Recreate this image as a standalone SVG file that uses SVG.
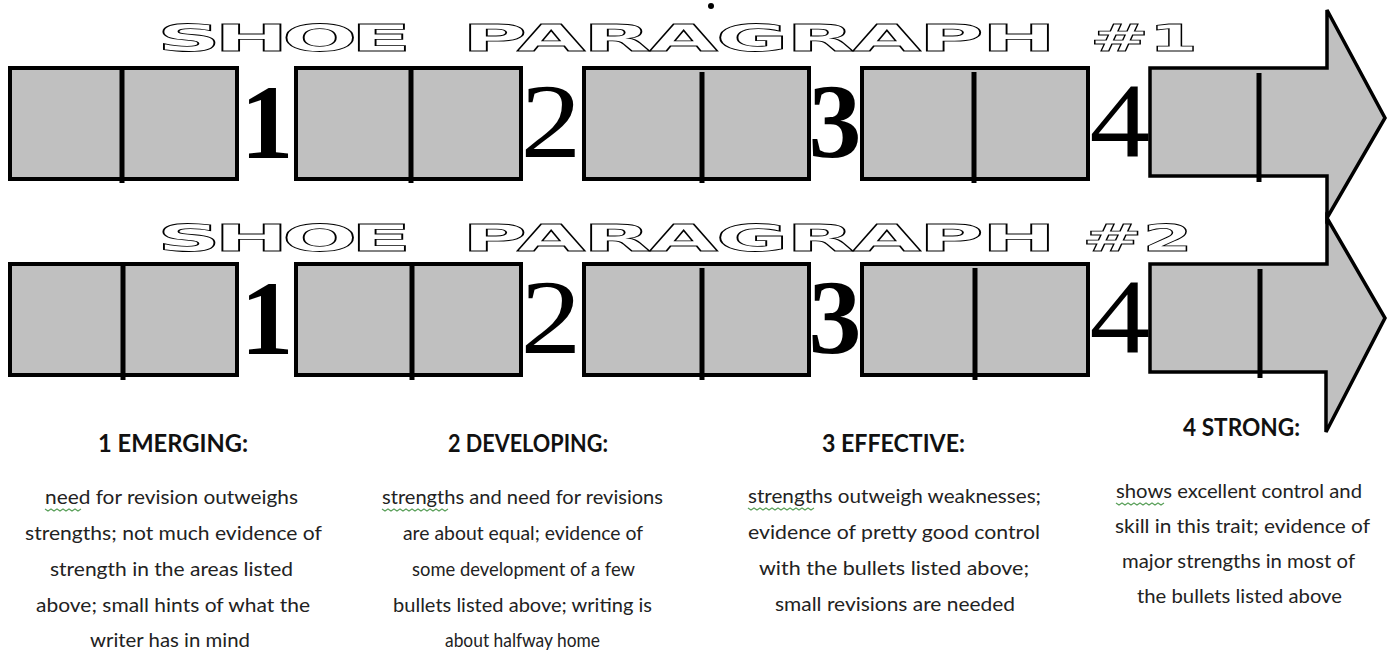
<svg xmlns="http://www.w3.org/2000/svg" width="1389" height="650" viewBox="0 0 1389 650">
<style>
.box{fill:#c0c0c0;stroke:#000;stroke-width:4}
.dv{stroke:#000;stroke-width:5;fill:none}
.arr{fill:#c0c0c0;stroke:#000;stroke-width:3.5;stroke-linejoin:miter}
.num{font-family:"Liberation Serif","Times New Roman",serif;font-size:106px;fill:#000;text-anchor:middle}
.title{font-family:"DejaVu Sans",sans-serif;font-weight:bold;font-size:37px;fill:#fff;stroke:#000;stroke-width:0.8}
.head{font-family:Lato,"Liberation Sans",sans-serif;font-weight:bold;font-size:24px;fill:#111}
.body{font-family:Lato,"Liberation Sans",sans-serif;font-size:19px;fill:#222}
.sq{fill:none;stroke:#5aa05a;stroke-width:1.2}
</style>
<rect width="1389" height="650" fill="#fff"/>
<circle cx="711" cy="6" r="3" fill="#000"/>

<g id="title1">
<text class="title" transform="translate(157,51) scale(2.4,1)" textLength="106" lengthAdjust="spacing">SHOE</text>
<text class="title" transform="translate(462,51) scale(2.4,1)" textLength="247.5" lengthAdjust="spacing">PARAGRAPH</text>
<text class="title" transform="translate(1090,51) scale(1.9,1)">#1</text>
</g>
<g id="title2">
<text class="title" transform="translate(157,251) scale(2.4,1)" textLength="106" lengthAdjust="spacing">SHOE</text>
<text class="title" transform="translate(462,251) scale(2.4,1)" textLength="247.5" lengthAdjust="spacing">PARAGRAPH</text>
<text class="title" transform="translate(1082,251) scale(1.95,1)">#2</text>
</g>

<g id="row1">
<g id="r1-box1"><rect class="box" x="10" y="68" width="227" height="111"/><line class="dv" x1="122" y1="70" x2="122" y2="183"/></g>
<g id="r1-num1"><text class="num" x="267" y="158" font-weight="bold">1</text></g>
<g id="r1-box2"><rect class="box" x="296" y="68" width="225" height="111"/><line class="dv" x1="411" y1="70" x2="411" y2="183"/></g>
<g id="r1-num2"><text class="num" x="551" y="157" transform="translate(551,0) scale(1.15,1) translate(-551,0)">2</text></g>
<g id="r1-box3"><rect class="box" x="584" y="68" width="225" height="111"/><line class="dv" x1="702" y1="72" x2="702" y2="183"/></g>
<g id="r1-num3"><text class="num" x="835" y="157" font-weight="bold">3</text></g>
<g id="r1-box4"><rect class="box" x="862" y="68" width="226" height="111"/><line class="dv" x1="974" y1="72" x2="974" y2="183"/></g>
<g id="r1-num4"><text class="num" x="1120" y="156" transform="translate(1120,0) scale(1.15,1) translate(-1120,0)">4</text></g>
<g id="r1-arrow"><polygon class="arr" points="1150,68 1327,68 1327,10 1385,118 1327,218 1327,176 1150,176"/><line class="dv" x1="1259" y1="73" x2="1259" y2="182"/></g>
</g>

<g id="row2">
<g id="r2-box1"><rect class="box" x="10" y="264" width="227" height="111"/><line class="dv" x1="123" y1="266" x2="123" y2="380"/></g>
<g id="r2-num1"><text class="num" x="267" y="354" font-weight="bold">1</text></g>
<g id="r2-box2"><rect class="box" x="296" y="264" width="225" height="111"/><line class="dv" x1="412" y1="266" x2="412" y2="380"/></g>
<g id="r2-num2"><text class="num" x="551" y="353" transform="translate(551,0) scale(1.15,1) translate(-551,0)">2</text></g>
<g id="r2-box3"><rect class="box" x="584" y="264" width="225" height="111"/><line class="dv" x1="702" y1="268" x2="702" y2="380"/></g>
<g id="r2-num3"><text class="num" x="835" y="353" font-weight="bold">3</text></g>
<g id="r2-box4"><rect class="box" x="862" y="264" width="226" height="111"/><line class="dv" x1="975" y1="268" x2="975" y2="380"/></g>
<g id="r2-num4"><text class="num" x="1120" y="352" transform="translate(1120,0) scale(1.15,1) translate(-1120,0)">4</text></g>
<g id="r2-arrow"><polygon class="arr" points="1150,264 1327,264 1327,218 1385,318 1326,432 1326,372 1150,372"/><line class="dv" x1="1260" y1="269" x2="1260" y2="378"/></g>
</g>

<g id="connectors"></g>

<g id="level1">
<text class="head" x="98" y="452" textLength="150" lengthAdjust="spacingAndGlyphs">1 EMERGING:</text>
<text class="body" x="45" y="504" textLength="253" lengthAdjust="spacingAndGlyphs">need for revision outweighs</text>
<text class="body" x="25" y="540" textLength="297" lengthAdjust="spacingAndGlyphs">strengths; not much evidence of</text>
<text class="body" x="50" y="576" textLength="243" lengthAdjust="spacingAndGlyphs">strength in the areas listed</text>
<text class="body" x="36" y="612" textLength="274" lengthAdjust="spacingAndGlyphs">above; small hints of what the</text>
<text class="body" x="90" y="647" textLength="160" lengthAdjust="spacingAndGlyphs">writer has in mind</text>
<path class="sq" d="M45,509 l3,2 l3,-2 l3,2 l3,-2 l3,2 l3,-2 l3,2 l3,-2 l3,2 l3,-2 l3,2 l3,-2"/>
</g>

<g id="level2">
<text class="head" x="448" y="452" textLength="160" lengthAdjust="spacingAndGlyphs">2 DEVELOPING:</text>
<text class="body" x="382" y="504" textLength="281" lengthAdjust="spacingAndGlyphs">strengths and need for revisions</text>
<text class="body" x="403" y="540" textLength="240" lengthAdjust="spacingAndGlyphs">are about equal; evidence of</text>
<text class="body" x="412" y="576" textLength="223" lengthAdjust="spacingAndGlyphs">some development of a few</text>
<text class="body" x="393" y="612" textLength="259" lengthAdjust="spacingAndGlyphs">bullets listed above; writing is</text>
<text class="body" x="445" y="647" textLength="155" lengthAdjust="spacingAndGlyphs">about halfway home</text>
<path class="sq" d="M382,509 l3,2 l3,-2 l3,2 l3,-2 l3,2 l3,-2 l3,2 l3,-2 l3,2 l3,-2 l3,2 l3,-2 l3,2 l3,-2 l3,2 l3,-2 l3,2 l3,-2 l3,2 l3,-2 l3,2 l3,-2"/>
</g>

<g id="level3">
<text class="head" x="822" y="452" textLength="143" lengthAdjust="spacingAndGlyphs">3 EFFECTIVE:</text>
<text class="body" x="748" y="503" textLength="293" lengthAdjust="spacingAndGlyphs">strengths outweigh weaknesses;</text>
<text class="body" x="748" y="539" textLength="292" lengthAdjust="spacingAndGlyphs">evidence of pretty good control</text>
<text class="body" x="759" y="575" textLength="270" lengthAdjust="spacingAndGlyphs">with the bullets listed above;</text>
<text class="body" x="775" y="611" textLength="240" lengthAdjust="spacingAndGlyphs">small revisions are needed</text>
<path class="sq" d="M748,508 l3,2 l3,-2 l3,2 l3,-2 l3,2 l3,-2 l3,2 l3,-2 l3,2 l3,-2 l3,2 l3,-2 l3,2 l3,-2 l3,2 l3,-2 l3,2 l3,-2 l3,2 l3,-2 l3,2 l3,-2"/>
</g>

<g id="level4">
<text class="head" x="1183" y="436" textLength="117" lengthAdjust="spacingAndGlyphs">4 STRONG:</text>
<text class="body" x="1116" y="498" textLength="246" lengthAdjust="spacingAndGlyphs">shows excellent control and</text>
<text class="body" x="1115" y="533" textLength="255" lengthAdjust="spacingAndGlyphs">skill in this trait; evidence of</text>
<text class="body" x="1122" y="568" textLength="233" lengthAdjust="spacingAndGlyphs">major strengths in most of</text>
<text class="body" x="1137" y="603" textLength="205" lengthAdjust="spacingAndGlyphs">the bullets listed above</text>
<path class="sq" d="M1116,503 l3,2 l3,-2 l3,2 l3,-2 l3,2 l3,-2 l3,2 l3,-2 l3,2 l3,-2 l3,2 l3,-2 l3,2 l3,-2 l3,2 l3,-2"/>
</g>
</svg>
